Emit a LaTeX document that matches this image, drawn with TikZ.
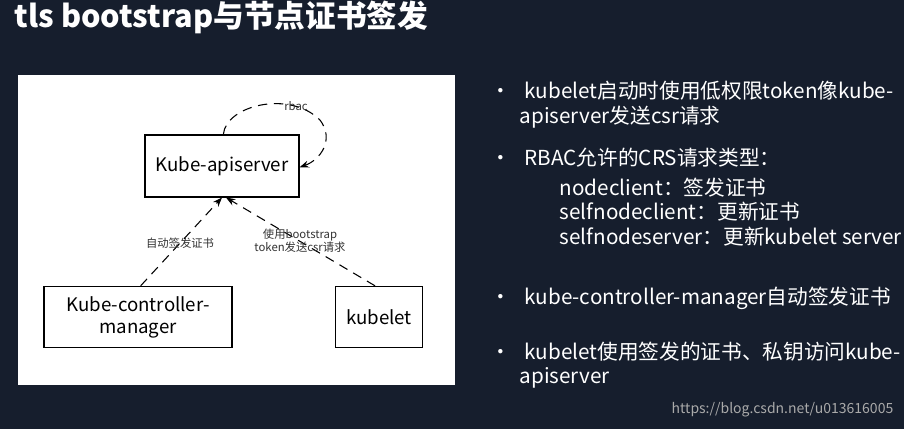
\documentclass[tikz,border=0pt]{standalone}
\usepackage{fontspec}
\setmainfont{Noto Sans CJK SC}
\usetikzlibrary{arrows.meta, positioning}
\definecolor{slidebg}{RGB}{22,30,45}
\definecolor{marktext}{RGB}{170,170,170}

\tikzset{
  box/.style={draw=black, thick, fill=white, inner sep=0pt, align=center, font=\fontsize{14}{16.5}\selectfont},
  dasharrow/.style={thick, dash pattern=on 7pt off 5pt, -{Stealth[length=7pt]}},
  smalllabel/.style={font=\fontsize{8.5}{10}\selectfont, text=black!80, align=center},
  bullettext/.style={anchor=west, text=white, font=\fontsize{15.5}{18}\selectfont, align=left}
}

\begin{document}
\begin{tikzpicture}[x=0.75pt, y=-0.75pt]

  % background and panel
  \fill[slidebg] (0,0) rectangle (904,429);
  \useasboundingbox (0,0) rectangle (904,429);
  \fill[white] (18,75) rectangle (455,385);

  \node[anchor=west, text=white, font=\fontsize{23}{26}\selectfont\bfseries] (title) at (10,17) {tls bootstrap与节点证书签发};

  % diagram
  \node[box, minimum width=115.5pt, minimum height=46.5pt] (api) at (222,166) {Kube-apiserver};
  \node[box, minimum width=141pt, minimum height=46pt] (kcm) at (138,317) {Kube-controller-\\manager};
  \node[box, minimum width=65pt, minimum height=46pt] (kubelet) at (379,317) {kubelet};

  \draw[dasharrow] ([xshift=2pt]kcm.north) -- ([xshift=0pt]api.south);
  \draw[dasharrow] ([xshift=-3pt]kubelet.north) -- ([xshift=3pt]api.south);
  \draw[dasharrow] ([xshift=1pt]api.north) .. controls (226,105) and (290,90) .. (320,120)
    .. controls (335,140) and (320,160) .. ([yshift=-1pt]api.east);

  \node[smalllabel] (rbaclbl) at (296,106) {rbac};
  \node[smalllabel] (kcmlbl) at (180,243) {自动签发证书};
  \node[smalllabel] (kubeletlbl) at (300,241) {使用bootstrap\\token发送csr请求};

  % bullets
  \foreach \yy/\txt in {91/{kubelet启动时使用低权限token像kube-}, 158/{RBAC允许的CRS请求类型：}, 298/{kube-controller-manager自动签发证书}, 352/{kubelet使用签发的证书、私钥访问kube-}}
    \node[bullettext] at (486,\yy) {•\hspace{10pt}\txt};
  \node[bullettext] (l1b) at (515,117) {apiserver发送csr请求};
  \node[bullettext] (l2b) at (555,188) {nodeclient：签发证书};
  \node[bullettext] (l2c) at (555,212) {selfnodeclient：更新证书};
  \node[bullettext] (l2d) at (555,237) {selfnodeserver：更新kubelet server};
  \node[bullettext] (l4b) at (515,378) {apiserver};

  \node[anchor=east, text=marktext, font=\fontsize{10.5}{12}\selectfont] (mark) at (898,410) {https://blog.csdn.net/u013616005};

\end{tikzpicture}
\end{document}
